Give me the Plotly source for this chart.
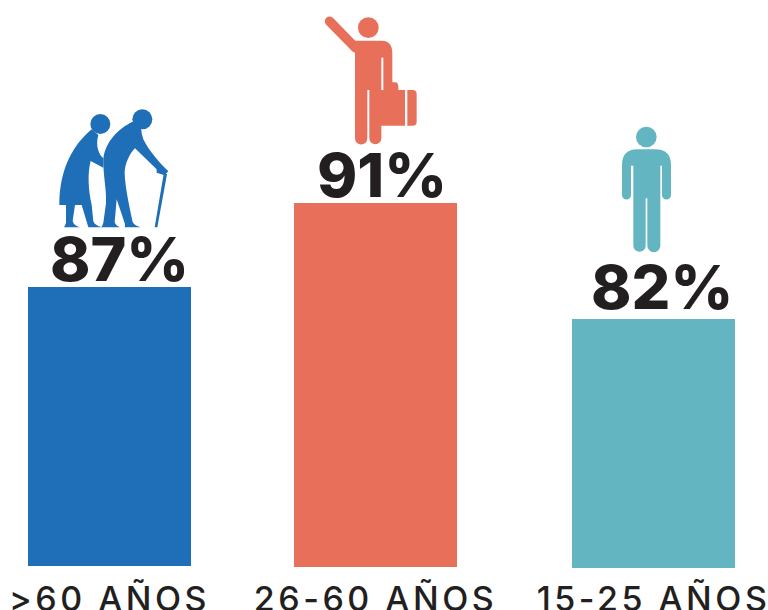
import base64
import plotly.graph_objects as go

categories = [">60 AÑOS", "26-60 AÑOS", "15-25 AÑOS"]
percent_labels = ["87%", "91%", "82%"]
bar_heights = [279, 364, 249]
bar_bases = [1, 0, -1]
bar_centers = [109.5, 375.5, 653.5]
bar_colors = ["#1e6eb8", "#e8705b", "#63b5c2"]
label_x = [119.5, 382, 661.5]
label_y = [284, 368, 256]
INK = "#231f20"

def svg_uri(w, h, body):
    s = f'<svg xmlns="http://www.w3.org/2000/svg" viewBox="0 0 {w} {h}" width="{w}" height="{h}">{body}</svg>'
    return "data:image/svg+xml;base64," + base64.b64encode(s.encode()).decode()

elders = f'''<g fill="{bar_colors[0]}">
<circle cx="181" cy="72" r="30"/><circle cx="307" cy="58" r="30"/>
<path d="M155 88 C105 130 58 200 58 315 H78 V368 Q76 376 72 382 H120 Q100 376 98 362 L105 315 H125 L145 382 H186 Q164 376 160 364 L155 315 C145 270 142 220 152 183 L190 203 V175 C178 165 165 140 175 105 Z"/>
<path d="M278 65 C235 85 190 130 190 185 C190 230 200 270 198 310 L190 368 Q188 376 184 382 H240 Q226 376 224 366 L230 298 L255 372 V382 H302 Q282 376 278 366 C268 320 255 260 254 220 C254 190 270 160 285 145 L350 208 V218 L374 226 L385 214 C360 190 325 150 310 118 Q304 100 303 85 Z"/>
<path d="M371 222 H381 L352 382 H344 Z"/></g>'''

traveller = f'''<g fill="{bar_colors[1]}">
<circle cx="175" cy="68" r="31"/>
<path d="M59 49 L137 129" stroke="{bar_colors[1]}" stroke-width="29" stroke-linecap="round"/>
<path d="M135 107 H215 Q247 107 247 145 V232 H255 Q265 232 265 245 V255 H285 V362 H214 V400 A18 18 0 0 1 178 400 V255 H172 V400 A18.5 18.5 0 0 1 135 400 Z"/>
<path d="M292 255 H308 Q320 255 320 268 V350 Q320 362 308 362 H292 Z"/>
</g><rect x="214" y="158" width="6" height="97" fill="#fff"/>'''

person = f'''<g fill="{bar_colors[2]}">
<circle cx="139" cy="66" r="31"/>
<path d="M66 150 Q66 103 112 103 H166 Q213 103 213 150 V240 A13.5 13.5 0 0 1 186 240 V152 H181 V392 A19.5 19.5 0 0 1 142 392 V250 H137 V392 A18.5 18.5 0 0 1 100 392 V152 H93 V240 A13.5 13.5 0 0 1 66 240 Z"/></g>'''

# icon images: (svg, left px, top px, width px, height px)
icons = [
    (svg_uri(450, 420, elders), 40, 100, 150, 140),
    (svg_uri(390, 450, traveller), 310, 5, 130, 150),
    (svg_uri(270, 435, person), 600, 115, 90, 145),
]
BASE_PX = 567

fig = go.Figure(go.Bar(
    x=bar_centers, y=bar_heights, base=bar_bases, width=163,
    marker=dict(color=bar_colors, line_width=0), hoverinfo="skip",
))

for x, y, t in zip(label_x, label_y, percent_labels):
    fig.add_annotation(x=x, y=y, text=t, showarrow=False, xanchor="center", yanchor="bottom",
                       yshift=-15, font=dict(family="Inter", size=61, color=INK, weight=800))

fig.update_layout(
    width=768, height=610, margin=dict(l=0, r=0, t=0, b=0), showlegend=False,
    paper_bgcolor="#fff", plot_bgcolor="#fff",
    xaxis=dict(range=[0, 768], tickmode="array", tickvals=bar_centers,
               ticktext=[f'<span style="letter-spacing:3.5px">{c}</span>' for c in categories],
               ticks="outside", ticklen=1, tickcolor="rgba(0,0,0,0)", showgrid=False, zeroline=False,
               showline=False, tickangle=0, automargin=False, ticklabeloverflow="allow",
               tickfont=dict(family="Inter", size=34, color=INK, weight=500)),
    yaxis=dict(range=[-1, BASE_PX], domain=[42 / 610, 1], visible=False, fixedrange=True),
    images=[dict(source=s, xref="x", yref="y", x=l, y=BASE_PX - t, sizex=w, sizey=h,
                 xanchor="left", yanchor="top", sizing="stretch", layer="above")
            for s, l, t, w, h in icons],
)
fig.write_html("out.html", config=dict(displayModeBar=False),
               post_script="document.body.style.margin='0';document.documentElement.style.overflow='hidden';")
